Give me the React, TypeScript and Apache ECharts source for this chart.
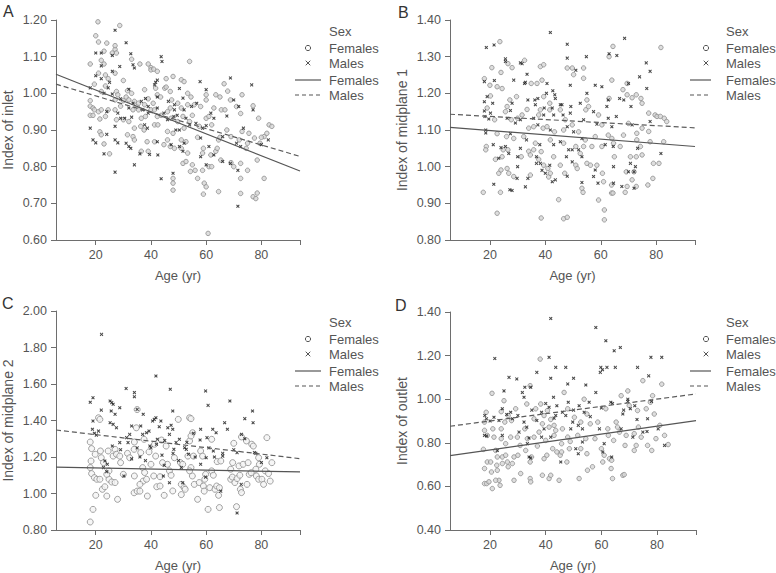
import React, { useEffect, useRef } from "react";
import * as echarts from "echarts";

const AGE_RANGE = [5.6, 94];
const X_TICKS = [20, 40, 60, 80];
const PANEL_LETTERS = ["A", "B", "C", "D"];
const Y_NAMES = ["Index of inlet", "Index of midplane 1", "Index of midplane 2", "Index of outlet"];
const Y_RANGES = [[0.6, 1.2, 0.1], [0.8, 1.4, 0.1], [0.8, 2.0, 0.2], [0.4, 1.4, 0.2]];
const LEGEND_LABELS = ["Sex", "Females", "Males", "Females", "Males"];

// regression line end values [at AGE_RANGE[0], at AGE_RANGE[1]]
const FIT_FEMALE = [[1.052, 0.788], [1.107, 1.055], [1.145, 1.118], [0.741, 0.902]];
const FIT_MALE = [[1.025, 0.828], [1.143, 1.106], [1.348, 1.191], [0.876, 1.024]];

const A_F = [[18,1.08],[18,0.98],[18,0.965],[18,0.94],[19,0.94],[19.5,1.025],[20,1.157],[19,0.96],[19.5,0.955],
[20.8,1.195],[21,1.14],[22,1.09],[23,1.08],[21,1.055],[23.5,1.05],[24,1.137],[23,1.115],[23.5,1.02],[24.5,1.04],[22,1.005],[21,0.95],[22,0.955],[24.5,0.955],[21.5,0.93],[23.5,0.937],[21.5,0.895],[22,0.887],[23,0.862],[25,0.835],
[26,1.11],[27,1.12],[27,1.13],[28.7,1.185],[27.5,1.11],[27,1.055],[27.5,1.005],[28,0.996],[27,0.982],[30,0.98],[27,0.955],[29,0.965],[27.5,0.928],[30,0.928],[30,1.035],
[33,1.093],[31.5,1.007],[33,1.0],[31,0.99],[32,0.982],[34,0.978],[33.5,0.955],[35,0.964],[32,0.923],[31.5,0.887],[33.5,0.882],[34,0.873],[34,0.905],
[36,1.08],[35.5,0.973],[37.7,0.969],[35.5,0.955],[40,0.955],[36.5,0.932],[38,0.937],[39,0.985],[37.7,1.01],[39,1.08],[40,1.07],[36.3,0.91],[37.5,0.9],[36.5,0.842],[39,0.842],[38.6,0.868],
[40,1.064],[41,1.066],[42.3,1.06],[41.7,1.014],[42.3,0.996],[43.5,0.99],[40.8,0.973],[41.3,0.955],[42.3,0.937],[43.7,0.94],[41.3,0.914],[42.5,0.914],[41.3,0.868],[44.7,0.86],[45,1.014],
[45.5,1.04],[48,1.046],[45.5,1.017],[47,1.005],[47.5,0.982],[49.7,0.973],[46,0.95],[47,0.96],[47.3,0.932],[49.7,0.923],[46,0.896],[48,0.891],[47,0.855],[48.5,0.85],[48,0.768],[48,0.755],[48,0.736],[46,0.873],
[51,1.037],[52,1.032],[54,1.087],[53.3,1.0],[54.5,0.99],[51,0.96],[53.3,0.969],[51.6,0.937],[54,0.923],[55,0.94],[52,0.905],[51,0.873],[52.7,0.868],[51,0.85],[53.3,0.837],[51.6,0.809],[52.7,0.814],[54.3,0.787],[55,0.805],[56,0.79],
[55.7,0.969],[58,0.964],[57.5,0.91],[56.9,0.88],[58.7,0.837],[59,0.85],[56.9,0.768],[58.7,0.79],[59,0.725],[60,0.932],[60,0.982],
[60,0.996],[61,0.937],[62.8,0.96],[62,0.914],[61.7,0.832],[63.5,0.842],[64,0.85],[61,0.8],[59.3,0.755],[60,0.745],[60.7,0.618],[62,0.8],[63.5,0.996],[65,0.99],[64.5,0.873],[65,0.88],
[66.5,1.026],[65.5,0.955],[66.8,0.955],[65.3,0.818],[64.5,0.732],[69,0.882],[67.5,0.9],[69,0.811],[68.8,0.982],[67.8,1.006],
[71,0.964],[72,0.873],[70,0.8],[72.5,0.809],[72.5,0.727],[72.5,0.768],[73,0.896],[73,0.996],[72.5,0.945],[75,0.864],[74.5,0.85],
[75.5,0.891],[75,0.79],[77,0.966],[77.5,0.878],[77,0.718],[78,0.713],[78.5,0.728],[78.5,0.818],[79,0.932],[79.5,0.864],[81,0.768],[81,0.882],[82,0.891],[82.8,0.914],[83.8,0.91],[80,0.88]];

const A_M = [[18,0.905],[19,0.873],[18,1.015],
[20,1.11],[22,1.11],[22,1.075],[20,1.048],[22,1.04],[24.5,1.015],[25,1.03],[23,1.0],[24,0.95],[24,0.888],[23,0.835],[20,0.865],
[26,1.103],[27,1.172],[26,1.06],[28.7,1.073],[26,0.998],[29,0.985],[28,0.946],[29,0.932],[27,0.91],[27,0.873],[27,0.785],[28,0.865],
[31,1.138],[32.7,1.108],[33.5,1.078],[34,1.069],[32,1.011],[33.5,0.973],[32,0.96],[30.5,0.932],[33,0.935],[31,0.864],[32,0.855],[32.7,0.85],[34,0.805],
[36.5,0.978],[39,0.964],[37,0.955],[39,0.946],[38,0.986],[38.7,0.905],[37.7,0.914],[36,0.835],[39.5,0.833],
[43.7,1.1],[44,1.087],[41.3,1.023],[42.3,0.99],[42.3,1.036],[41.7,1.03],[42.3,0.96],[44.7,0.946],[42.3,0.868],[42.5,0.832],[43.7,0.767],
[46.3,0.978],[48.5,0.969],[48.5,0.955],[49.5,0.94],[46,0.928],[48.3,0.937],[49,0.9],[47.3,0.86],[48,0.782],
[50.3,1.013],[51.6,0.987],[52,0.955],[54.7,0.964],[52.7,0.932],[50.3,0.9],[54,0.914],[52,0.864],[50.3,0.855],[51.6,0.842],
[57.8,1.032],[56.6,0.973],[56.3,0.918],[58.7,0.905],[58,0.878],[58,0.827],
[60,1.01],[61.7,0.946],[60,0.912],[62.8,0.932],[61,0.855],[62.8,0.832],[60,0.805],
[68.8,1.042],[66,0.814],[66,0.882],[68.8,0.809],[67.5,0.938],
[71.8,0.964],[70,0.982],[71,0.864],[72.5,0.855],[71.5,0.692],[71.5,0.79],[73.5,0.905],
[76.5,1.023],[77,0.955],[80,0.86],[82.5,0.873]];

const B_F = [[23.6,1.341],[18,1.24],[20.7,1.27],[24,1.257],[20,1.222],[22.6,1.218],[24.4,1.213],[20.2,1.193],[19,1.16],[21.7,1.128],[18.7,1.055],[18.5,1.046],[22.6,1.09],[17.6,0.93],[22.6,0.873],[23.8,0.93],[23.2,0.982],[24,0.991],[24.4,1.027],[24.8,1.046],[22,1.02],
[26.5,1.281],[28,1.27],[27.2,1.182],[29.6,1.191],[32.5,1.29],[25.6,1.15],[26.2,1.164],[27.7,1.128],[30,1.132],[26,1.082],[28.6,1.077],[26.5,1.046],[26.2,0.995],[26.8,0.982],[28.6,0.973],[31.3,1.027],[34.6,0.977],[32.2,1.082],[34,1.105],[33.4,1.156],[34,1.042],[34.6,1.032],[31.6,1.141],
[34.9,1.227],[37,1.227],[38.8,1.236],[38.2,1.273],[39.4,1.278],[39.4,1.191],[38.2,1.155],[37.6,1.141],[35.8,1.109],[39.2,1.105],[36.4,1.064],[38.5,1.041],[35.8,1.046],[37.6,1.02],[39.4,1.004],[38.5,0.86],[40.9,0.995],[41.2,0.972],[41.8,0.982],[41.6,1.173],[41.6,1.155],[40.6,1.109],[43.3,1.095],[41.8,1.073],[43,1.027],
[47.9,1.269],[49.7,1.269],[50.2,1.251],[53.8,1.269],[53.8,1.241],[44.8,0.91],[46.6,0.858],[47.9,0.862],[45.4,1.155],[47.2,1.128],[46.6,1.1],[49.7,1.114],[51,1.055],[46.6,1.064],[45.4,1.004],[47,0.982],[51,1.004],[51.5,0.995],[52.6,1.036],[53.2,0.941],[53.6,0.93],[52,1.095],[54.6,1.155],[54.4,1.073],[53.8,1.055],
[55.6,1.164],[55,1.182],[59.2,1.141],[60.4,1.114],[58,1.082],[56.8,1.055],[55,1.009],[56.3,1.004],[58.6,1.004],[59.2,0.909],[60.6,0.982],[61,0.959],[61.3,0.882],[61.3,0.855],[60.4,1.055],[63,1.186],[63,1.3],[64.4,1.328],[62.7,1.086],[64,1.077],[64.6,1.064],[63.9,0.95],[63.9,0.928],[64.4,0.928],[64.9,1.027],[64,1.236],
[68,1.21],[69.5,1.227],[69.5,1.196],[70,1.118],[68.2,1.086],[67,1.055],[68.8,0.93],[69.5,0.946],[69.2,0.986],[70.7,1.027],[71.3,0.964],[72.8,0.946],[72,0.986],[71.3,1.188],[72.8,1.196],[74.5,1.186],[74.9,1.173],[74.3,1.055],[73,1.073],[72.8,1.027],[74.9,1.105],[74.9,1.032],[73,1.091],
[77.3,1.146],[77.3,1.096],[77.8,1.068],[77,0.95],[78.8,0.968],[79,1.009],[81,1.009],[79.6,1.141],[80.3,1.137],[81.5,1.137],[82.9,1.132],[83.8,1.123],[81.7,1.325],[82.7,1.068]];

const B_M = [[18.7,1.325],[21.5,1.332],[18,1.232],[21.6,1.235],[18,1.177],[19,1.191],[21,1.173],[18,1.152],[20.2,1.146],[18.2,1.137],[19.6,1.13],[21.2,1.06],[18.5,1.1],[18.5,1.092],[21.4,0.952],[23.2,1.023],[24,1.052],
[25.6,1.294],[25.6,1.287],[28,1.173],[28.6,1.236],[31,1.283],[31.6,1.281],[27.4,1.153],[26.2,1.132],[29.2,1.119],[27.4,1.09],[25.6,1.055],[26.8,1.036],[27.2,0.937],[28,0.935],[30,1.027],[31,1.05],[30,1.0],[29.8,0.968],[32.8,0.945],[33.7,0.968],[33.2,1.073],[32.5,1.227],[33.4,1.252],[32.8,1.23],[33.7,1.182],[31,1.128],
[36.2,1.182],[37.3,1.186],[40.4,1.2],[36.4,1.169],[39.6,1.16],[35.8,1.132],[39.4,1.141],[37.3,1.114],[38,1.06],[36.8,1.027],[38.2,1.009],[36.8,1.009],[38.8,0.99],[40,0.982],[41.6,1.004],[41.8,1.366],[40.6,1.227],[42.7,1.207],[42.5,1.16],[43,1.141],[41.8,1.1],[43,1.06],[42.5,0.959],[43.6,0.964],[43.4,1.196],[43.6,1.186],
[47.9,1.334],[47.9,1.296],[51,1.263],[54.8,1.3],[45.4,1.169],[46,1.169],[46.4,1.141],[49,1.146],[47.9,1.109],[50.2,1.095],[48.4,1.046],[49.7,1.046],[45.4,1.068],[47.6,1.027],[47.9,0.974],[49.7,1.013],[52,1.046],[53.2,1.027],[53.2,0.957],[49,1.222],[49.2,1.164],[53.8,1.128],[53.2,1.077],[52.6,1.173],
[55,1.2],[57.4,1.15],[58,1.222],[60.4,1.218],[58.6,1.116],[58,0.991],[57.4,0.973],[59,0.955],[61.6,1.06],[62.2,1.164],[62.7,1.182],[63,1.308],[62.7,1.132],[64,1.109],[64.5,1.055],[64.6,1.0],[65.6,1.137],[65.8,1.303],[64.6,0.955],
[66.8,1.186],[68.3,1.182],[68.6,1.35],[70,1.227],[71.3,1.114],[67.6,0.946],[70,0.986],[70.7,1.009],[72,0.941],[72,0.986],[70.9,1.164],[73.3,1.05],[72.5,1.0],[74,1.245],
[76.4,1.283],[77.8,1.26],[76.6,1.213],[77.8,1.123],[81.7,1.036]];

const C_F = [[18,0.844],[19,0.913],[20,0.99],[18,1.282],[18.5,1.246],[18.3,1.178],[18,1.142],[18.5,1.109],[19.5,1.087],[20.4,1.078],[19.8,1.215],[21,1.415],[21.5,1.406],[21.7,1.233],[22,1.196],[22.8,1.169],[21.5,1.078],[22.4,1.023],[23.3,1.037],[24,0.986],[24.5,1.233],[24.8,1.124],[24.8,1.078],[24,1.105],
[27,1.242],[26.3,1.205],[27.5,1.215],[25.8,1.063],[27,1.06],[27.9,0.968],[28.7,1.205],[29,1.169],[30,1.105],[31.5,1.22],[32.3,1.196],[34.7,1.36],[34,1.282],[33.9,1.242],[34,1.096],[33.9,1.004],[35,1.013],[35,1.46],[36.3,1.224],[37,1.142],[37.2,1.068],[36,1.05],[36,1.013],
[37.5,1.297],[37.7,1.115],[38.4,1.078],[38.7,0.986],[39.3,1.228],[40,1.16],[41,1.096],[41.3,1.27],[41.7,1.205],[42.1,1.037],[43.3,1.041],[43.8,1.293],[44.2,1.169],[44.8,0.99],[43.3,1.092],[45.5,1.26],
[46,1.16],[46.7,1.124],[47.3,1.1],[47.9,1.014],[48.5,1.196],[49.9,1.406],[50.7,1.169],[51.5,1.16],[51,1.05],[52,1.032],[52.4,1.023],[51,0.994],[53.4,1.205],[54,1.288],[54,1.415],[54.5,1.41],[55.1,1.333],[54.5,1.315],[54.5,1.142],[55,1.096],[55.7,1.05],[55.4,1.205],[54,1.124],
[56.9,0.968],[57.5,1.06],[58,1.233],[58.7,1.205],[59,1.041],[59.5,1.078],[59.8,1.105],[59.3,1.013],[60.7,0.913],[61.3,1.032],[62,1.124],[62,1.297],[62.6,1.1],[63.2,1.023],[63.8,1.041],[64,1.175],[64.8,0.923],[64.5,0.99],[64.8,1.032],[65.3,1.178],
[68.9,1.133],[68.9,1.078],[69.5,1.09],[70,1.275],[69.6,1.169],[71,0.928],[70.4,1.06],[71.2,1.082],[72.2,1.1],[71.9,1.151],[72.4,1.023],[72.8,1.005],[72.8,1.31],[73.4,1.16],[74.8,1.05],[74.6,1.288],[75.2,1.169],[75.6,1.105],
[76.5,1.27],[77.1,1.26],[78,1.133],[78.2,1.096],[76.3,1.114],[79,1.196],[79.3,1.16],[79,1.078],[80.2,1.078],[80.8,1.05],[81.4,1.124],[82,1.306],[82.6,1.109],[83.2,1.068],[83.8,1.169]];

const C_M = [[18,1.5],[19,1.525],[18.8,1.352],[19,1.397],[19.5,1.33],[20.2,1.32],[21,1.342],[22.1,1.872],[22,1.457],[23.3,1.178],[22.8,1.142],[24.2,1.16],
[25.2,1.507],[25.8,1.498],[26.3,1.489],[25.6,1.452],[27,1.434],[25.2,1.388],[26.3,1.379],[27.5,1.36],[28.7,1.47],[31,1.575],[28.7,1.279],[30.2,1.096],[31.2,1.306],[31.7,1.279],[32.3,1.324],[33,1.37],[34,1.553],[34,1.53],[35,1.461],[36.3,1.37],[37,1.324],[37.2,1.434],
[38.4,1.333],[39.6,1.26],[39.3,1.342],[40.6,1.397],[41.2,1.406],[41.8,1.415],[41.8,1.644],[42.3,1.297],[43,1.366],[43.6,1.397],[44.8,1.154],[44.5,1.096],[46.1,1.36],[46.7,1.324],[47,1.571],[47.3,1.374],[47.9,1.352],[47.9,1.452],
[46.7,1.059],[48.3,1.242],[49.1,1.279],[50.3,1.297],[51,1.142],[51.5,1.059],[52.2,1.251],[52.8,1.242],[55.4,1.33],[53.6,1.215],
[57.8,1.293],[58,1.352],[59.8,1.562],[59.8,1.09],[60,1.196],[60.3,1.306],[60.7,1.483],[62.4,1.352],[62.6,1.233],[63.6,1.333],[65.3,1.013],[66,1.205],
[66.7,1.388],[68.6,1.507],[67.7,1.352],[71.2,0.893],[71.2,1.224],[72.7,1.05],[72.8,1.324],[74,1.41],
[76.8,1.452],[77,1.388],[77.5,1.224],[82,1.196],
[24,1.12],[26,1.26],[29,1.24],[33,1.19],[35,1.25],[36,1.2],[38,1.18],[40,1.25],[42,1.27],[44,1.21],[45,1.29],[48,1.22],[50,1.18],[53,1.28],[56,1.2],[58,1.16],[61,1.25],[63,1.2],[66,1.22],[70,1.24],[74,1.3],[78,1.22],[80,1.17]];

const D_F = [[18,0.682],[18,0.613],[18.8,0.613],[17.6,0.77],[18,0.857],[18,0.895],[18.6,0.94],[19,0.834],[19,0.712],[20.2,0.712],[19.6,0.621],[20.8,0.59],[20.5,0.666],[20.7,1.027],[21,0.864],[21.4,0.826],[22,0.765],[22.6,0.735],[22.4,0.697],[22.6,0.674],[23.2,0.628],[23.6,0.605],[22,0.628],[24,0.943],[24,0.864],[24,0.819],[24.4,0.735],[24.4,0.705],[25,0.993],
[25.3,0.895],[25.6,0.796],[25.6,0.743],[26.2,0.712],[26.5,0.69],[26.5,0.925],[27.7,0.902],[27.4,0.826],[28,0.705],[28.6,0.628],[28.6,0.735],[29.2,0.956],[29.8,0.826],[30.8,0.788],[31,0.659],[30,0.743],[32.5,0.864],[32.8,0.765],[33.4,0.819],[34.4,0.712],[34.9,0.735],[34.4,0.636],[34.6,0.621],[34.4,1.062],[33.2,0.978],
[35.8,0.91],[36.4,0.956],[35.8,0.826],[37,0.785],[37.6,0.849],[38,1.184],[38.2,0.978],[39.4,0.925],[38.8,0.887],[40,0.811],[40.4,0.743],[39.4,0.727],[38.8,0.651],[40.6,0.948],[41.8,0.907],[41.2,0.872],[42.5,0.773],[41.2,0.636],[41.8,0.651],[43,0.88],[43.6,0.857],[44,0.758],[43,0.834],
[44.8,0.628],[45.2,0.743],[45.7,0.796],[45.7,0.758],[46,0.864],[46.6,1.031],[47.9,0.956],[47.9,0.826],[48.8,0.806],[48.5,0.773],[47.6,0.712],[50.3,0.917],[52,0.636],[51.5,0.834],[52.6,0.773],[52.6,0.895],[53.8,1.0],[54.4,0.819],[54.8,0.75],[55,0.674],[54.8,0.932],
[56,0.887],[56.8,0.69],[57.7,0.819],[58.7,0.895],[60,0.773],[60.5,0.712],[61,0.743],[61.6,0.956],[62.3,0.864],[62.5,0.834],[62.9,0.727],[63.5,0.682],[63.7,0.72],[64,0.636],[64.4,0.811],
[65.3,0.895],[65.8,0.872],[66.5,0.849],[67.1,1.016],[68.5,0.788],[68.9,0.834],[69.5,1.038],[70,0.971],[67.7,0.651],[68.2,0.654],[71.8,0.842],[72.5,0.788],[71.8,0.765],[73,0.948],[73.3,0.872],[74.3,0.826],
[74.9,1.085],[76.1,0.956],[76.6,0.788],[77.6,0.986],[78.1,0.765],[78.4,1.016],[79,0.932],[79.6,0.819],[81,0.88],[81.7,1.069],[82.7,0.834],[84,0.792]];

const D_M = [[18,0.834],[18.8,0.831],[18.7,0.91],[18.1,0.925],[21.7,1.187],[21.4,0.917],[22.6,0.765],[23.2,0.902],[24.4,0.956],[24.4,0.834],[25,1.038],
[26.8,1.1],[27.4,0.94],[29.6,1.093],[30,0.925],[30.4,0.849],[31.6,1.031],[32.2,1.009],[32.5,1.055],[32.2,0.895],[33.2,0.872],[33.4,0.796],[34,0.822],[34.6,1.055],[34,0.735],[34.6,0.73],
[36.8,0.902],[36.8,1.123],[38.5,0.94],[39.4,0.864],[38.5,0.826],[41.2,0.963],[41.2,1.192],[41.8,1.096],[41.8,1.37],[41.8,0.826],[43,0.913],[43.6,1.146],[42.8,1.009],[43.6,0.925],
[45.4,0.712],[47.2,1.146],[47.9,1.07],[47.2,0.925],[48.1,0.986],[49,0.864],[50,1.096],[49.7,0.895],[50.8,0.773],[51.7,0.75],[51.7,0.88],[53.2,0.864],[53.2,0.804],[54.4,1.065],[53.8,0.94],
[55.6,0.986],[58,1.031],[58,1.329],[59.3,0.864],[59.6,1.123],[59.8,1.146],[60.4,1.135],[60.5,0.758],[61,0.796],[61.6,1.268],[62,1.146],[63.4,0.986],[63.7,0.735],[64.6,1.222],[65,1.146],
[66.8,1.237],[67.1,0.864],[67.7,0.932],[69.5,1.0],[70.4,0.956],[69.5,0.99],[71.3,0.826],[72.8,0.907],[73,1.146],[74.9,0.849],
[76.4,0.852],[76.6,0.91],[77,1.107],[77.8,1.192],[80.4,0.864],[81.7,1.192],[82.7,0.788],
[20,0.9],[26,0.93],[28,0.91],[35,0.95],[40,0.98],[44,0.97],[46,0.94],[50,0.95],[52,0.97],[56,0.92],[60,0.96],[64,0.98],[68,0.95],[72,0.97],[78,0.99]];

const FEMALES = [A_F, B_F, C_F, D_F];
const MALES = [A_M, B_M, C_M, D_M];

// layout (pixels)
const GRIDS = [
  { left: 54, top: 20, width: 246, height: 220 },
  { left: 450, top: 20, width: 245, height: 220 },
  { left: 54, top: 311, width: 246, height: 219 },
  { left: 450, top: 312, width: 246, height: 219 },
];
const LETTER_POS = [[3, 3], [398, 4], [2, 295], [395, 297]];
const LEGEND_POS = [
  { tx: 329, sx: 308, lx0: 295, lx1: 321, y: 31 },
  { tx: 726, sx: 706, lx0: 690, lx1: 711, y: 31 },
  { tx: 329, sx: 308, lx0: 295, lx1: 321, y: 322 },
  { tx: 726, sx: 706, lx0: 690, lx1: 711, y: 322 },
];
const FEMALE_SIZES = [4.5, 4.5, 6, 4.5];

const FONT = "'Liberation Sans', Arial, sans-serif";
const TXT = "#555";
const AXIS = "#6e6e6e";
const MALE_SYMBOL = "path://M0,2L2,0L5,3L8,0L10,2L7,5L10,8L8,10L5,7L2,10L0,8L3,5Z";

function legendGraphics(p: any) {
  const els: any[] = [];
  const ys = [p.y, p.y + 17, p.y + 32, p.y + 49, p.y + 64];
  LEGEND_LABELS.forEach((t, i) => {
    els.push({
      type: "text",
      style: { text: t, x: p.tx, y: ys[i], fill: TXT, fontSize: 13, fontFamily: FONT, verticalAlign: "middle", align: "left" },
    });
  });
  els.push({ type: "circle", shape: { cx: p.sx, cy: ys[1], r: 2.6 }, style: { fill: "none", stroke: "#555", lineWidth: 1 } });
  els.push({ type: "line", shape: { x1: p.sx - 2.3, y1: ys[2] - 2.3, x2: p.sx + 2.3, y2: ys[2] + 2.3 }, style: { stroke: "#555", lineWidth: 1 } });
  els.push({ type: "line", shape: { x1: p.sx - 2.3, y1: ys[2] + 2.3, x2: p.sx + 2.3, y2: ys[2] - 2.3 }, style: { stroke: "#555", lineWidth: 1 } });
  els.push({ type: "line", shape: { x1: p.lx0, y1: ys[3], x2: p.lx1, y2: ys[3] }, style: { stroke: "#555", lineWidth: 1.2 } });
  els.push({ type: "line", shape: { x1: p.lx0, y1: ys[4], x2: p.lx1, y2: ys[4] }, style: { stroke: "#555", lineWidth: 1.2, lineDash: [4, 3] } });
  return els;
}

export default function App() {
  const ref = useRef<HTMLDivElement>(null);
  useEffect(() => {
    if (!ref.current) return;
    const chart = echarts.init(ref.current, undefined, { renderer: "svg" });
    const grid: any[] = [];
    const xAxis: any[] = [];
    const yAxis: any[] = [];
    const series: any[] = [];
    const graphic: any[] = [];
    for (let i = 0; i < 4; i++) {
      grid.push({ ...GRIDS[i], containLabel: false });
      xAxis.push({
        type: "value",
        gridIndex: i,
        min: AGE_RANGE[0],
        max: AGE_RANGE[1],
        name: "Age (yr)",
        nameLocation: "middle",
        nameGap: 29,
        nameTextStyle: { color: TXT, fontSize: 13, fontFamily: FONT },
        axisLine: { show: true, onZero: false, lineStyle: { color: AXIS, width: 1 } },
        axisTick: { show: true, length: 5, lineStyle: { color: AXIS }, customValues: [...X_TICKS, AGE_RANGE[1]] },
        axisLabel: { color: TXT, fontSize: 12.5, fontFamily: FONT, margin: 8, customValues: X_TICKS },
        splitLine: { show: false },
      });
      const [ymin, ymax, yint] = Y_RANGES[i];
      yAxis.push({
        type: "value",
        gridIndex: i,
        min: ymin,
        max: ymax,
        interval: yint,
        name: Y_NAMES[i],
        nameLocation: "middle",
        nameGap: 41,
        nameTextStyle: { color: TXT, fontSize: 14, fontFamily: FONT },
        axisLine: { show: true, onZero: false, lineStyle: { color: AXIS, width: 1 } },
        axisTick: { show: true, length: 5, lineStyle: { color: AXIS } },
        axisLabel: { color: TXT, fontSize: 12.5, fontFamily: FONT, margin: 9, formatter: (v: number) => v.toFixed(2) },
        splitLine: { show: false },
      });
      series.push({
        type: "scatter",
        xAxisIndex: i,
        yAxisIndex: i,
        data: FEMALES[i],
        symbol: "circle",
        symbolSize: FEMALE_SIZES[i],
        itemStyle: { color: i === 2 ? "#f4f4f4" : "#d6d6d6", borderColor: "#8c8c8c", borderWidth: 1 },
        z: 2,
      });
      series.push({
        type: "scatter",
        xAxisIndex: i,
        yAxisIndex: i,
        data: MALES[i],
        symbol: MALE_SYMBOL,
        symbolSize: 3.6,
        itemStyle: { color: "#1a1a1a" },
        z: 3,
      });
      series.push({
        type: "line",
        xAxisIndex: i,
        yAxisIndex: i,
        data: [[AGE_RANGE[0], FIT_FEMALE[i][0]], [AGE_RANGE[1], FIT_FEMALE[i][1]]],
        symbol: "none",
        lineStyle: { color: "#555", width: 1.2, type: "solid" },
        z: 4,
      });
      series.push({
        type: "line",
        xAxisIndex: i,
        yAxisIndex: i,
        data: [[AGE_RANGE[0], FIT_MALE[i][0]], [AGE_RANGE[1], FIT_MALE[i][1]]],
        symbol: "none",
        lineStyle: { color: "#5c5c5c", width: 1.2, type: [5, 3] },
        z: 4,
      });
      graphic.push({
        type: "text",
        style: { text: PANEL_LETTERS[i], x: LETTER_POS[i][0], y: LETTER_POS[i][1], fill: "#333", fontSize: 16, fontFamily: FONT },
      });
      graphic.push(...legendGraphics(LEGEND_POS[i]));
    }
    chart.setOption({
      animation: false,
      backgroundColor: "#fff",
      textStyle: { fontFamily: FONT },
      grid,
      xAxis,
      yAxis,
      series,
      graphic,
    });
    return () => chart.dispose();
  }, []);
  return <div ref={ref} style={{ position: "fixed", left: 0, top: 0, width: 776, height: 573 }} />;
}
